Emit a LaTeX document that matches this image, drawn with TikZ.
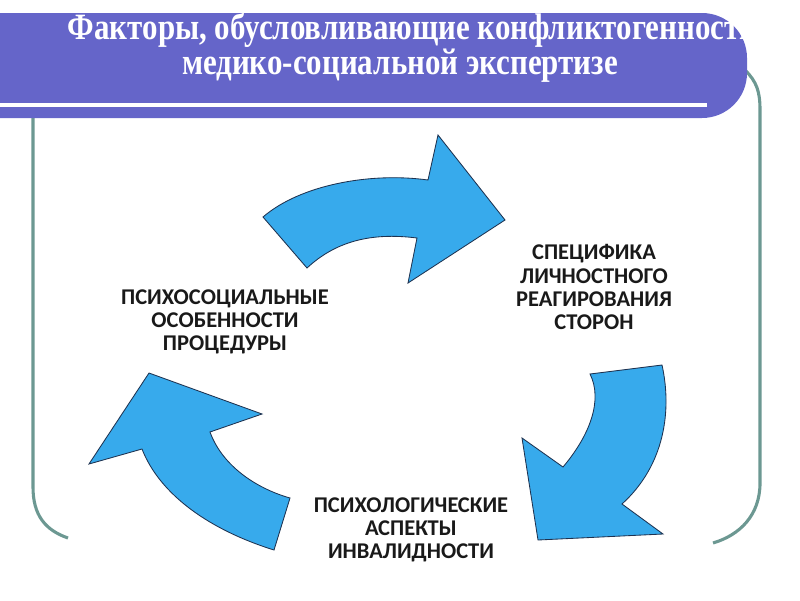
\documentclass[tikz,border=0pt]{standalone}
\usepackage{fontspec}
\setmainfont{Liberation Serif}
\newfontfamily\capsfont{Carlito}
\usepackage{xcolor}
\definecolor{bannerblue}{RGB}{101,101,201}
\definecolor{frameteal}{RGB}{108,152,146}
\definecolor{arrowblue}{RGB}{55,170,236}
\definecolor{arrowedge}{RGB}{30,50,80}
\tikzset{
  banner/.style={fill=bannerblue, rounded corners=32pt},
  frameline/.style={line width=2.2pt, frameteal, line cap=butt},
  cyclearrow/.style={fill=arrowblue, draw=arrowedge, line width=0.6pt, line join=miter},
  factor/.style={font=\capsfont\bfseries\fontsize{16}{16.4}\selectfont, text=black!90, align=center},
  heading/.style={font=\bfseries\fontsize{22}{24}\selectfont, text=white},
}
\newcommand\tallhead[1]{\scalebox{1}[1.2]{#1}}

\begin{document}
\begin{tikzpicture}[x=0.025cm, y=-0.025cm]
\useasboundingbox (0,0) rectangle (800,600);
\draw[frameline] (33,118) -- (33,487) .. controls (33,515) and (45,530) .. (68,538);
\draw[frameline] (745,70) .. controls (757,82) and (760,92) .. (760,110) -- (760,483)
  .. controls (760,515) and (740,535) .. (713,543);
\fill[banner] (-60,13) rectangle (747,118);
\draw[white, line width=2.2pt] (-5,105) -- (707,105);
\node[heading] (titletop) at (412,30) {\tallhead{Факторы, обусловливающие конфликтогенность}};
\node[heading] (titlebottom) at (400,66) {\tallhead{медико-социальной экспертизе}};

\draw[cyclearrow] (263,217) .. controls (300,185) and (370,172) .. (428,180)
  -- (438,135) -- (505,220) -- (408,283) -- (417,238)
  .. controls (370,232) and (335,242) .. (307,268) -- cycle;
\draw[cyclearrow] (590,374) -- (662,365) .. controls (672,410) and (665,465) .. (622,504)
  -- (663,534) -- (538,540) -- (522,438) -- (563,467)
  .. controls (590,435) and (603,400) .. cycle;
\draw[cyclearrow] (149,373) -- (262,414) -- (210,432)
  .. controls (222,465) and (255,488) .. (290,498) -- (274,550)
  .. controls (210,530) and (160,495) .. (142,449) -- (89,464) -- cycle;

\node[factor] (specific) at (594,287) {СПЕЦИФИКА\\ЛИЧНОСТНОГО\\РЕАГИРОВАНИЯ\\СТОРОН};
\node[factor] (psychosocial) at (225,322) {ПСИХОСОЦИАЛЬНЫЕ\\ОСОБЕННОСТИ\\ПРОЦЕДУРЫ};
\node[factor] (disability) at (411,530) {ПСИХОЛОГИЧЕСКИЕ\\АСПЕКТЫ\\ИНВАЛИДНОСТИ};
\end{tikzpicture}
\end{document}
